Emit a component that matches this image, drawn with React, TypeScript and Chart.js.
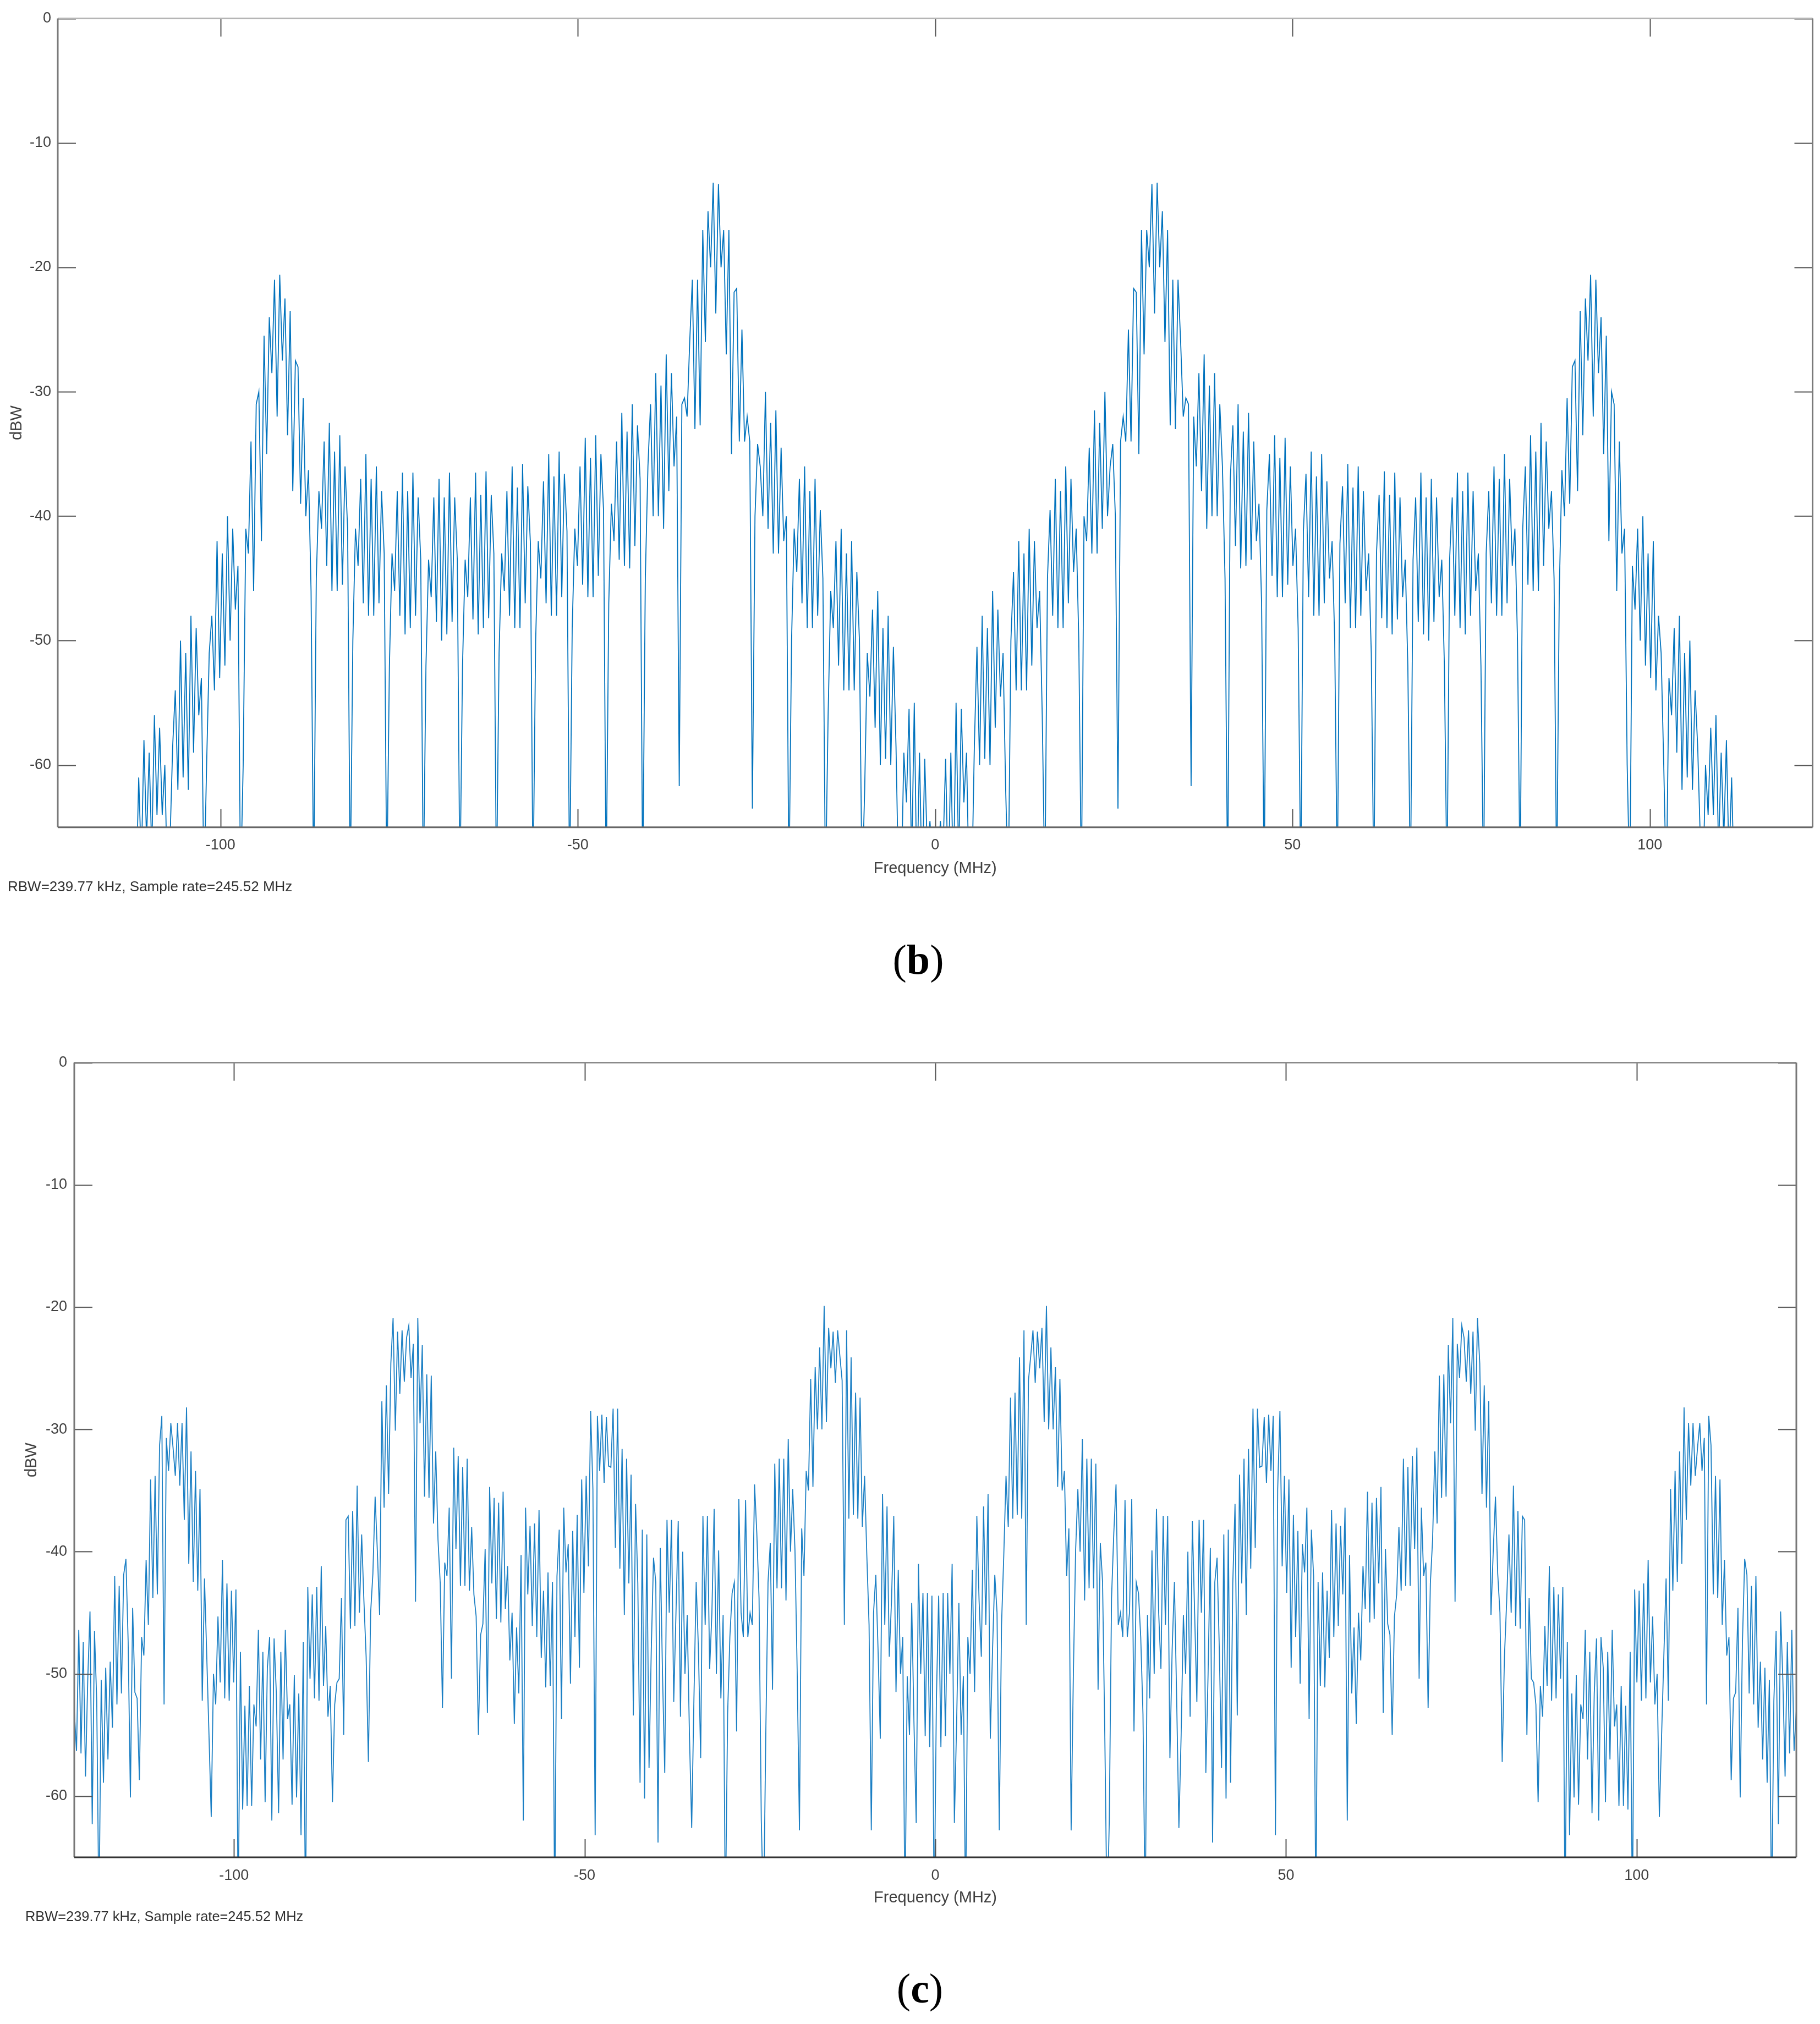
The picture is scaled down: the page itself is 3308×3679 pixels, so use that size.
import React, { useEffect, useRef } from "react";
import { Chart, registerables } from "chart.js";

Chart.register(...registerables);

const xTickValues = [-100, -50, 0, 50, 100];
const yTickValues = [0, -10, -20, -30, -40, -50, -60];
const freqLimit = 122.76;
const noteText = "RBW=239.77 kHz, Sample rate=245.52 MHz";
const xTitle = "Frequency (MHz)";
const yTitle = "dBW";

const bFreqStart = -112.53;
const bFreqStep = 0.36536;
const bPower = [
  -70,-70,-70,-61,-68,-58,-66,-59,-67,-56,-64,-57,-64,-60,
  -70,-66,-58.5,-54,-62,-50,-61,-51,-62,-48,-59,-49,-56,-53,
  -70,-60,-51,-48,-54,-42,-53,-43,-52,-40,-50,-41,-47.5,-44,
  -70,-60,-41,-43,-34,-46,-31,-30,-42,-25.5,-35,-24,-28.5,-21,
  -32,-20.6,-27.5,-22.5,-33.5,-23.5,-38,-27.5,-28,-39,-30.5,-40,-36.3,-46,
  -70,-45,-38,-41,-34,-44,-32.5,-46,-34.8,-46,-33.5,-45.5,-36,-41,
  -70,-50,-41,-44,-37,-47,-35,-48,-37,-48,-36,-47,-38,-43,
  -70,-52,-43,-46,-38,-48,-36.5,-49.5,-38,-49,-36.5,-48,-38.5,-43.5,
  -70,-52,-43.5,-46.5,-38.5,-48.5,-37,-50,-38.5,-49.5,-36.5,-48.5,-38.5,-43.5,
  -70,-52,-43.5,-46.5,-38.5,-48.3,-36.5,-49.5,-38.3,-49,-36.4,-48.2,-38.3,-43,
  -70,-51,-43,-46,-38,-48,-36,-49,-37.7,-49,-35.8,-47,-37.6,-42.2,
  -70,-50,-42,-45,-37.2,-47,-35,-48,-36.8,-48,-34.8,-46.5,-36.6,-41.2,
  -70,-49,-41,-44,-36,-45.5,-33.7,-46.5,-35.3,-46.5,-33.5,-44.8,-35,-39.5,
  -70,-47,-39,-42,-34,-43.5,-31.7,-44,-33.2,-44.2,-31,-42.4,-32.7,-37,
  -70,-45,-36,-31,-40,-28.5,-40,-29.5,-41,-27,-38,-28.5,-36,-32,
  -61.7,-31,-30.5,-32,-26,-21,-33,-21,-32.7,-17,-26,-15.5,-20,-13.2,
  -23.7,-13.3,-20,-17,-27,-17,-35,-22,-21.7,-34,-25,-34,-32,-34,
  -63.5,-40,-34.2,-36,-40,-30,-41,-32.5,-43,-31.5,-43,-34.5,-42,-40,
  -70,-50,-41,-44.5,-37,-47,-36,-49,-38,-49,-37,-48,-39.5,-45,
  -70,-56,-46,-49,-42,-52,-41,-54,-43,-54,-42,-54,-44.5,-50,
  -70,-62,-51,-54.5,-47.5,-57,-46,-60,-49,-59.5,-48,-60,-50.5,-58.5,
  -70,-70,-59,-63,-55.5,-68,-55,-70,-59,-70,-59.5,-67,-64.5,-68,
  -70,-68,-64.5,-67,-59.5,-70,-59,-70,-55,-68,-55.5,-63,-59,-70,
  -70,-58.5,-50.5,-60,-48,-59.5,-49,-60,-46,-57,-47.5,-54.5,-51,-62,
  -70,-50,-44.5,-54,-42,-54,-43,-54,-41,-52,-42,-49,-46,-56,
  -70,-45,-39.5,-48,-37,-49,-38,-49,-36,-47,-37,-44.5,-41,-50,
  -70,-40,-42,-34.5,-43,-31.5,-43,-32.5,-41,-30,-40,-36,-34.2,-40,
  -63.5,-34,-32,-34,-25,-34,-21.7,-22,-35,-17,-27,-17,-20,-13.3,
  -23.7,-13.2,-20,-15.5,-26,-17,-32.7,-21,-33,-21,-26,-32,-30.5,-31,
  -61.7,-32,-36,-28.5,-38,-27,-41,-29.5,-40,-28.5,-40,-31,-36,-45,
  -70,-37,-32.7,-42.4,-31,-44.2,-33.2,-44,-31.7,-43.5,-34,-42,-39,-47,
  -70,-39.5,-35,-44.8,-33.5,-46.5,-35.3,-46.5,-33.7,-45.5,-36,-44,-41,-49,
  -70,-41.2,-36.6,-46.5,-34.8,-48,-36.8,-48,-35,-47,-37.2,-45,-42,-50,
  -70,-42.2,-37.6,-47,-35.8,-49,-37.7,-49,-36,-48,-38,-46,-43,-51,
  -70,-43,-38.3,-48.2,-36.4,-49,-38.3,-49.5,-36.5,-48.3,-38.5,-46.5,-43.5,-52,
  -70,-43.5,-38.5,-48.5,-36.5,-49.5,-38.5,-50,-37,-48.5,-38.5,-46.5,-43.5,-52,
  -70,-43.5,-38.5,-48,-36.5,-49,-38,-49.5,-36.5,-48,-38,-46,-43,-52,
  -70,-43,-38,-47,-36,-48,-37,-48,-35,-47,-37,-44,-41,-50,
  -70,-41,-36,-45.5,-33.5,-46,-34.8,-46,-32.5,-44,-34,-41,-38,-45,
  -70,-46,-36.3,-40,-30.5,-39,-28,-27.5,-38,-23.5,-33.5,-22.5,-27.5,-20.6,
  -32,-21,-28.5,-24,-35,-25.5,-42,-30,-31,-46,-34,-43,-41,-60,
  -70,-44,-47.5,-41,-50,-40,-52,-43,-53,-42,-54,-48,-51,-60,
  -70,-53,-56,-49,-59,-48,-62,-51,-61,-50,-62,-54,-58.5,-66,
  -70,-60,-64,-57,-64,-56,-67,-59,-66,-58,-68,-61,-70,-70,
  -70,
];

const cFreqStart = -122.76;
const cFreqStep = 0.3201;
const cPower = [
  -53,-56.3,-46.4,-56.5,-47.4,-58.4,-50.5,-44.9,-62.3,-46.5,
  -52.2,-70,-50.5,-58.9,-49.5,-57,-49,-54.4,-42,-52.5,
  -42.8,-51.6,-41.9,-40.6,-47.4,-60.1,-44.6,-51.5,-52,-58.7,
  -47,-48.5,-40.7,-46,-34.1,-43.8,-33.8,-43.5,-31.3,-28.9,
  -52.5,-30.7,-33.4,-29.5,-31.5,-33.8,-29.5,-34.6,-29.5,-37.4,
  -28.2,-41,-31.8,-42.5,-33.4,-43.2,-34.9,-52.2,-42.2,-48.5,
  -55,-61.7,-50,-52.5,-45.3,-50.7,-40.7,-52,-42.6,-52.2,
  -43.2,-50.7,-43.1,-70,-48.2,-61.1,-52.6,-60.8,-51,-60.8,
  -52.5,-54.3,-46.4,-57,-48.2,-60.5,-49.5,-47,-62,-47.1,
  -51.6,-61.4,-48.2,-57,-46.4,-53.7,-52.5,-60.7,-50.1,-60.1,
  -51.6,-63.2,-47.4,-70,-42.9,-50.4,-43.5,-52,-42.9,-52.2,
  -41.2,-51,-46.1,-53.5,-51,-60.5,-52.5,-50.7,-50.4,-43.8,
  -55,-37.4,-37.1,-46.3,-36.7,-46.1,-34.6,
  -45,-38.6,-44,-48.6,-57.2,-45,-41.8,-35.5,-40,-45.2,
  -27.7,-36.4,-26.4,-35.3,-24.6,-20.9,-30.1,-22,-27.1,-21.9,
  -26.1,-22.5,-21.5,-25.8,-23,-44.1,-20.9,-29.5,-23.1,-35.5,
  -25.5,-35.6,-25.6,-37.7,-31.8,-39,-42.6,-52.8,-40.9,-42,
  -36.4,-50.4,-31.5,-39.8,-32.2,-42.8,-33.1,-42.8,-32.4,-43.2,
  -38,-43.5,-45.3,-55,-46.8,-45.9,-39.8,-53.2,-34.7,-42.6,
  -35.6,-45.5,-36,-45.8,-35.1,-44.7,-41.2,-48.9,-45,-54.1,
  -46.2,-51.6,-40.3,-62,-36.4,-43.5,-37.9,-46.1,-37.7,-47,
  -36.6,-48.7,-43.2,-51.1,-41.7,-51,-42.5,-70,-42,-38.2,
  -53.7,-36.4,-41.7,-39.4,-50.8,-38.3,-47,-37,-49.5,-34.1,
  -43.4,-33.8,-41.2,-28.5,-34.9,-63.2,-28.9,-33.4,-28.8,-34.4,
  -29,-33,-33.1,-28.3,-39.7,-28.3,-41.4,-31.6,-45.2,-32.4,
  -42.6,-33.7,-53.4,-36.1,-42.6,
  -58.9,-38.2,-60.2,-38.6,-57.7,-48,-40.5,-42.5,-63.8,-39.7,
  -50,-58.1,-37.4,-45,-37.4,-52.3,-45,-37.5,-53.5,-40,
  -50,-45.2,-55,-62.6,-52,-42.5,-48,-56.9,-37.1,-46,
  -37.1,-49.6,-45,-36.5,-50,-39.9,-52,-45.2,-70,-53.3,
  -47,-43.4,-42.5,-54.7,-35.7,-45,-47,-35.8,-47,-45,
  -46,-34.5,-38.5,-43.8,-62,-70,-55,-42.5,-39.3,-51.3,
  -32.8,-43,-32.4,-43,-32.4,-44,-30.8,-40,-34.9,-39.9,
  -50,-62.8,-38.1,-42,-33.4,-35,-25.9,-34.7,-24.9,-30,
  -23.3,-30,-19.9,-29.4,-21.7,-25,-22,-26.2,-21.9,-24,
  -26,-46,-21.9,-37.3,-24.1,-37,-27,-37.3,-27.4,-38,
  -33.8,-40.3,-46,-62.8,-45,-41.9,-48,-55.3,-35.3,-46,
  -36.3,-48.6,-44,-37.1,-51.5,-41.5,-50,-47,-70,-50.2,
  -55,-44.2,-54,-62.2,-41,-50,-43.4,-55.1,-43.4,-56,
  -43.6,-70,
  -52,
  -43.6,-56,-43.4,-55.1,-43.4,-50,-41,-62.2,-54,-44.2,-55,-50.2,-70,-47,-50,
  -41.5,-51.5,-37.1,-44,-48.6,-36.3,-46,-35.3,-55.3,-48,-41.9,-45,-62.8,-46,-40.3,
  -33.8,-38,-27.4,-37.3,-27,-37,-24.1,-37.3,-21.9,-46,-26,-24,-21.9,-26.2,-22,
  -25,-21.7,-29.4,-19.9,-30,-23.3,-30,-24.9,-34.7,-25.9,-35,-33.4,-42,-38.1,-62.8,
  -50,-39.9,-34.9,-40,-30.8,-44,-32.4,-43,-32.4,-43,-32.8,-51.3,-39.3,-42.5,-55,
  -70,-62,-43.8,-38.5,-34.5,-46,-45,-47,-35.8,-47,-45,-35.7,-54.7,-42.5,-43.4,
  -47,-53.3,-70,-45.2,-52,-39.9,-50,-36.5,-45,-49.6,-37.1,-46,-37.1,-56.9,-48,
  -42.5,-52,-62.6,-55,-45.2,-50,-40,-53.5,-37.5,-45,-52.3,-37.4,-45,-37.4,-58.1,
  -50,-39.7,-63.8,-42.5,-40.5,-48,-57.7,-38.6,-60.2,-38.2,-58.9,
  -42.6,-36.1,-53.4,-33.7,-42.6,-32.4,-45.2,-31.6,-41.4,-28.3,-39.7,-28.3,-33.1,-33,-29,
  -34.4,-28.8,-33.4,-28.9,-63.2,-34.9,-28.5,-41.2,-33.8,-43.4,-34.1,-49.5,-37,-47,-38.3,
  -50.8,-39.4,-41.7,-36.4,-53.7,-38.2,-42,-70,-42.5,-51,-41.7,-51.1,-43.2,-48.7,-36.6,
  -47,-37.7,-46.1,-37.9,-43.5,-36.4,-62,-40.3,-51.6,-46.2,-54.1,-45,-48.9,-41.2,-44.7,
  -35.1,-45.8,-36,-45.5,-35.6,-42.6,-34.7,-53.2,-39.8,-45.9,-46.8,-55,-45.3,-43.5,-38,
  -43.2,-32.4,-42.8,-33.1,-42.8,-32.2,-39.8,-31.5,-50.4,-36.4,-42,-40.9,-52.8,-42.6,-39,
  -31.8,-37.7,-25.6,-35.6,-25.5,-35.5,-23.1,-29.5,-20.9,-44.1,-23,-25.8,-21.5,-22.5,-26.1,
  -21.9,-27.1,-22,-30.1,-20.9,-24.6,-35.3,-26.4,-36.4,-27.7,-45.2,-40,-35.5,-41.8,-45,
  -57.2,-48.6,-44,-38.6,-45,-34.6,-46.1,-36.7,-46.3,-37.1,-37.4,-55,-43.8,-50.4,-50.7,
  -52.5,-60.5,-51,-53.5,-46.1,-51,-41.2,-52.2,-42.9,-52,-43.5,-50.4,-42.9,-70,-47.4,
  -63.2,-51.6,-60.1,-50.1,-60.7,-52.5,-53.7,-46.4,-57,-48.2,-61.4,-51.6,-47.1,-62,-47,
  -49.5,-60.5,-48.2,-57,-46.4,-54.3,-52.5,-60.8,-51,-60.8,-52.6,-61.1,-48.2,-70,-43.1,
  -50.7,-43.2,-52.2,-42.6,-52,-40.7,-50.7,-45.3,-52.5,-50,-61.7,-55,-48.5,-42.2,-52.2,
  -34.9,-43.2,-33.4,-42.5,-31.8,-41,-28.2,-37.4,-29.5,-34.6,-29.5,-33.8,-31.5,-29.5,-33.4,
  -30.7,-52.5,-28.9,-31.3,-43.5,-33.8,-43.8,-34.1,-46,-40.7,-48.5,-47,-58.7,-52,-51.5,
  -44.6,-60.1,-47.4,-40.6,-41.9,-51.6,-42.8,-52.5,-42,-54.4,-49,-57,-49.5,-58.9,-50.5,
  -70,-52.2,-46.5,-62.3,-44.9,-50.5,-58.4,-47.4,-56.5,-46.4,-56.3,-53,
];

const FONT = "'Liberation Sans', Arial, sans-serif";

type PanelProps = {
  top: number;
  height: number;
  axisLeft: number;
  axisRight: number;
  axisTop: number;
  axisBottom: number;
  power: number[];
  freqStart: number;
  freqStep: number;
  color: string;
  lineWidth: number;
  titlePadLeft: number;
  titlePadBottom: number;
  tickPad: number;
  topColor: string;
  sideColor: string;
  bottomColor: string;
};

function Panel(p: PanelProps) {
  const ref = useRef<HTMLCanvasElement>(null);
  useEffect(() => {
    const canvas = ref.current;
    if (!canvas) return;
    const xScaleHeight = 95;
    const frame = {
      id: "matlabFrame",
      afterDraw(chart: any) {
        const { ctx, chartArea: a, scales } = chart;
        ctx.save();
        ctx.lineWidth = 2;
        ctx.strokeStyle = "#555555";
        const len = 33;
        for (const v of xTickValues) {
          const x = Math.round(scales.x.getPixelForValue(v)) + 0.5;
          ctx.beginPath();
          ctx.moveTo(x, a.top);
          ctx.lineTo(x, a.top + len);
          ctx.moveTo(x, a.bottom);
          ctx.lineTo(x, a.bottom - len);
          ctx.stroke();
        }
        for (const v of yTickValues) {
          const y = Math.round(scales.y.getPixelForValue(v)) + 0.5;
          ctx.beginPath();
          ctx.moveTo(a.left, y);
          ctx.lineTo(a.left + len, y);
          ctx.moveTo(a.right, y);
          ctx.lineTo(a.right - len, y);
          ctx.stroke();
        }
        ctx.lineWidth = 3;
        ctx.strokeStyle = p.topColor;
        ctx.beginPath();
        ctx.moveTo(a.left, a.top);
        ctx.lineTo(a.right, a.top);
        ctx.stroke();
        ctx.strokeStyle = p.sideColor;
        ctx.beginPath();
        ctx.moveTo(a.left, a.top);
        ctx.lineTo(a.left, a.bottom);
        ctx.moveTo(a.right, a.top);
        ctx.lineTo(a.right, a.bottom);
        ctx.stroke();
        ctx.strokeStyle = p.bottomColor;
        ctx.beginPath();
        ctx.moveTo(a.left, a.bottom);
        ctx.lineTo(a.right, a.bottom);
        ctx.stroke();
        ctx.restore();
      },
    };
    const chart = new Chart(canvas, {
      type: "line",
      data: {
        datasets: [
          {
            data: p.power.map((y, i) => ({ x: p.freqStart + i * p.freqStep, y })),
            borderColor: p.color,
            borderWidth: p.lineWidth,
            pointRadius: 0,
            tension: 0,
            fill: false,
          },
        ],
      },
      options: {
        animation: false,
        responsive: false,
        devicePixelRatio: 1,
        parsing: false,
        normalized: true,
        layout: {
          padding: {
            top: p.axisTop,
            left: 0,
            right: 3308 - p.axisRight,
            bottom: p.height - p.axisBottom - xScaleHeight,
          },
        },
        plugins: { legend: { display: false }, tooltip: { enabled: false }, title: { display: false } },
        scales: {
          x: {
            type: "linear",
            min: -freqLimit,
            max: freqLimit,
            afterBuildTicks: (s: any) => {
              s.ticks = xTickValues.map((value) => ({ value }));
            },
            afterFit: (s: any) => {
              s.height = xScaleHeight;
            },
            grid: { display: false, drawTicks: false },
            border: { display: false },
            ticks: {
              autoSkip: false,
              maxRotation: 0,
              padding: 17,
              color: "#404040",
              font: { family: FONT, size: 27 },
              callback: (v: any) => String(v),
            },
            title: {
              display: true,
              text: xTitle,
              color: "#404040",
              font: { family: FONT, size: 29 },
              padding: { top: 0, bottom: p.titlePadBottom },
            },
          },
          y: {
            type: "linear",
            min: -65,
            max: 0,
            afterBuildTicks: (s: any) => {
              s.ticks = yTickValues.map((value) => ({ value }));
            },
            afterFit: (s: any) => {
              s.width = p.axisLeft;
            },
            grid: { display: false, drawTicks: false },
            border: { display: false },
            ticks: {
              autoSkip: false,
              padding: p.tickPad,
              color: "#404040",
              font: { family: FONT, size: 27 },
              callback: (v: any) => String(v),
            },
            title: {
              display: true,
              text: yTitle,
              color: "#404040",
              font: { family: FONT, size: 29 },
              padding: { top: p.titlePadLeft, bottom: 0 },
            },
          },
        },
      },
      plugins: [frame],
    } as any);
    return () => chart.destroy();
  }, []);
  return (
    <canvas
      ref={ref}
      width={3308}
      height={p.height}
      style={{ position: "absolute", left: 0, top: p.top, width: 3308, height: p.height }}
    />
  );
}

const noteStyle = (left: number, centerY: number, size: number): React.CSSProperties => ({
  position: "absolute",
  left,
  top: centerY,
  transform: "translateY(-50%)",
  fontFamily: FONT,
  fontSize: size,
  lineHeight: 1,
  color: "#303030",
  whiteSpace: "nowrap",
});

const labelStyle = (centerX: number, centerY: number): React.CSSProperties => ({
  position: "absolute",
  left: centerX,
  top: centerY,
  transform: "translate(-50%, -50%)",
  fontFamily: "'Liberation Serif', serif",
  fontSize: 76,
  lineHeight: 1,
  color: "#000",
  whiteSpace: "nowrap",
});

export default function App() {
  return (
    <div style={{ position: "absolute", left: 0, top: 0, width: 3308, height: 3679, background: "#fff", overflow: "hidden" }}>
      <Panel
        top={0}
        height={1750}
        axisLeft={105}
        axisRight={3294.5}
        axisTop={33.6}
        axisBottom={1503.7}
        power={bPower}
        freqStart={bFreqStart}
        freqStep={bFreqStep}
        color="#0072BD"
        lineWidth={1.8}
        titlePadLeft={14}
        titlePadBottom={2}
        tickPad={12}
        topColor="#b5b5b5"
        sideColor="#7a7a7a"
        bottomColor="#666666"
      />
      <div style={noteStyle(14, 1611, 26)}>{noteText}</div>
      <div style={labelStyle(1669, 1744)}>
        (<b>b</b>)
      </div>
      <Panel
        top={1800}
        height={1879}
        axisLeft={135}
        axisRight={3265}
        axisTop={131.6}
        axisBottom={1576}
        power={cPower}
        freqStart={cFreqStart}
        freqStep={cFreqStep}
        color="#1b7fc4"
        lineWidth={1.8}
        titlePadLeft={41}
        titlePadBottom={4}
        tickPad={13}
        topColor="#8a8a8a"
        sideColor="#777777"
        bottomColor="#333333"
      />
      <div style={noteStyle(46, 3484, 25.4)}>{noteText}</div>
      <div style={labelStyle(1672, 3614)}>
        (<b>c</b>)
      </div>
    </div>
  );
}
